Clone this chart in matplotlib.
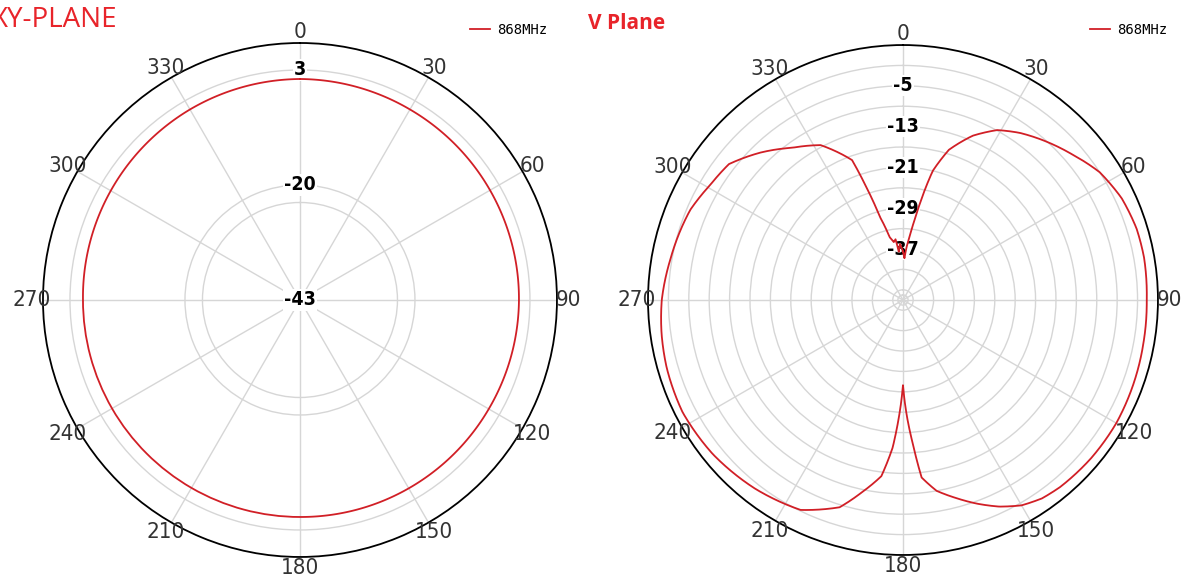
import numpy as np
import matplotlib.pyplot as plt

# XY plane, 868 MHz: gain (dB) every 30 degrees, clockwise from 0
xy_angle = [0, 30, 60, 90, 120, 150, 180, 210, 240, 270, 300, 330]
xy_gain = [1.2, 1.0, 0.9, 0.8, 0.6, 0.5, 0.4, 0.4, 0.4, 0.4, 0.7, 1.0]

# V plane, 868 MHz
v_angle = [0, 2, 4, 6, 8, 10, 13, 17, 23, 29, 35, 41, 49, 57, 65, 73, 80, 90,
           100, 110, 120, 130, 140, 145, 150, 155, 160, 165, 170, 174, 176,
           178, 179, 180, 181, 182, 184, 187, 192, 197, 206, 218, 231, 243,
           254, 262, 270, 280, 293, 301, 308, 316, 324, 332, 340, 342, 344.5,
           348, 351, 353, 355, 357, 359]
v_gain = [-37.5, -38.8, -36.5, -34.5, -31.5, -27.7, -21, -16.2, -12, -8.9, -7,
          -5.4, -3.3, -1.0, 0.3, 0.9, 1.0, 0.8, 0.9, 1.1, 1.3, 1.2, 0.9, 0.5,
          -0.5, -2.3, -4.5, -6.8, -9, -12, -18.5, -24, -27, -30.3, -27, -24,
          -18, -12.2, -8.5, -4.5, -1.2, 0, 1.0, 1.5, 1.2, 0.8, 0.3, -0.7,
          -1.7, -3.0, -3.7, -6.8, -10.1, -12.6, -17.8, -23.7, -30.1, -34.4,
          -35.5, -35, -37.5, -36, -37]

xy_rings = [3, -20, -23.5]
xy_labels = [3, -20, -43]
v_rings = [-1, -5, -9, -13, -17, -21, -25, -29, -33, -37, -41, -45, -46]
v_labels = [-5, -13, -21, -29, -37]
theta_ticks = list(range(0, 360, 30))

red = '#d11f26'
grid = '#d6d6d6'
narrow = ['Liberation Sans Narrow', 'DejaVu Sans']

fig = plt.figure(figsize=(11.84, 5.77), dpi=100)
ax1 = fig.add_axes([0.0363, 0.0347, 0.4341, 0.8908], projection='polar')
ax2 = fig.add_axes([0.5473, 0.0381, 0.4307, 0.8839], projection='polar')


def setup(ax, angle, gain, rmin, rmax, rings, labels):
    ax.set_theta_zero_location('N')
    ax.set_theta_direction(-1)
    # close the curve at 360 degrees
    th = np.deg2rad(np.append(angle, angle[0] + 360))
    g = np.append(gain, gain[0])
    line, = ax.plot(th, g, color=red, lw=1.3, label='868MHz', zorder=5)
    # draw segments as curves in polar space, not straight chords
    line.get_path()._interpolation_steps = 60
    ax.set_ylim(rmin, rmax)
    ax.set_yticks(rings)
    ax.set_yticklabels([])
    ax.set_xticks(np.deg2rad(theta_ticks))
    ax.set_xticklabels([])
    ax.grid(True, color=grid, lw=1)
    ax.spines['polar'].set_color('black')
    ax.spines['polar'].set_linewidth(1.3)
    for v in labels:
        ax.text(0, v, str(v), ha='center', va='center', fontsize=14,
                fontweight='bold', family=narrow, fontstretch='condensed',
                color='black', zorder=3,
                bbox=dict(facecolor='white', edgecolor='none', pad=0.8))
    r_lab = rmax + (rmax - rmin) * 0.044
    for t in theta_ticks:
        ax.text(np.deg2rad(t), r_lab, str(t), ha='center', va='center',
                fontsize=16, family=narrow, fontstretch='condensed',
                color='#333333', clip_on=False)
    return line


l1 = setup(ax1, xy_angle, xy_gain, -43, 8.4, xy_rings, xy_labels)
l2 = setup(ax2, v_angle, v_gain, -47, 3, v_rings, v_labels)

for ax, line, x in [(ax1, l1, 470), (ax2, l2, 1090)]:
    ax.legend(handles=[line], loc='center left',
              bbox_to_anchor=(x / 1184, 1 - 30 / 577),
              bbox_transform=fig.transFigure, frameon=False,
              borderaxespad=0, borderpad=0, handlelength=1.45,
              handletextpad=0.5,
              prop={'family': 'DejaVu Sans Mono', 'size': 10})

fig.text(-0.007, 0.965, 'XY-PLANE', color='#e8242a', fontsize=20,
         family=['Open Sans', 'DejaVu Sans'], ha='left', va='center')
fig.text(588 / 1184, 0.960, 'V Plane', color='#e8242a', fontsize=15,
         fontweight='bold', family=['Open Sans', 'DejaVu Sans'],
         ha='left', va='center')

fig.savefig('out.png', dpi=100)
